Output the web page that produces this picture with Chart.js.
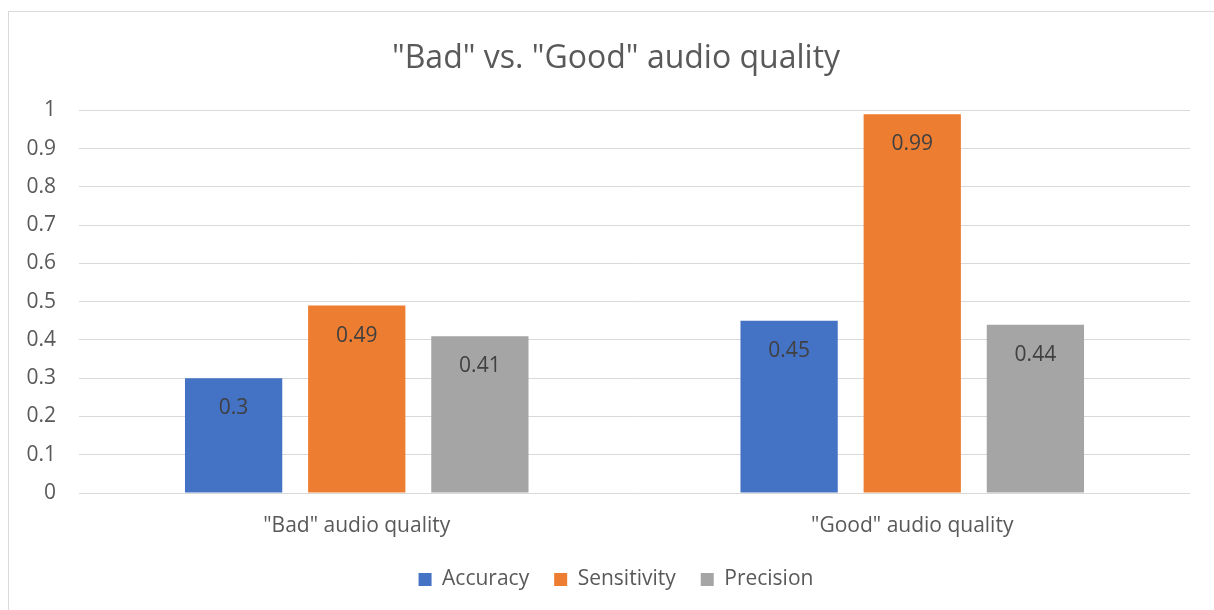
<!DOCTYPE html>
<html>
<head>
<meta charset="utf-8">
<script src="https://cdn.jsdelivr.net/npm/chart.js@4.4.1/dist/chart.umd.min.js"></script>
<style>
  html, body { margin: 0; padding: 0; background: #ffffff; overflow: hidden; }
  #frame {
    position: absolute; left: 8px; top: 11px;
    width: 1216px; height: 660px;
    border: 1px solid #d9d9d9; box-sizing: border-box; background: #fff;
  }
  #chart { position: absolute; left: 0; top: 0; }
</style>
</head>
<body>
<div id="frame"><canvas id="chart" width="1214" height="640"></canvas></div>
<script>
// Categories and series
const categories = ['"Bad" audio quality', '"Good" audio quality'];
const accuracy = [0.3, 0.45];
const sensitivity = [0.49, 0.99];
const precision = [0.41, 0.44];
const seriesNames = ['Accuracy', 'Sensitivity', 'Precision'];
const seriesColors = ['#4472C4', '#ED7D31', '#A5A5A5'];
const yTicks = [0, 0.1, 0.2, 0.3, 0.4, 0.5, 0.6, 0.7, 0.8, 0.9, 1];

const FONT = '"Open Sans", "Liberation Sans", sans-serif';
const LABEL_SIZE = 21;

// Value labels drawn inside each bar, just below its top
const barValueLabels = {
  id: 'barValueLabels',
  afterDatasetsDraw(chart) {
    const ctx = chart.ctx;
    ctx.save();
    ctx.font = LABEL_SIZE + 'px ' + FONT;
    ctx.fillStyle = '#404040';
    ctx.textAlign = 'center';
    ctx.textBaseline = 'middle';
    chart.data.datasets.forEach((ds, i) => {
      const meta = chart.getDatasetMeta(i);
      meta.data.forEach((bar, j) => {
        ctx.fillText(String(ds.data[j]), bar.x, bar.y + 30);
      });
    });
    ctx.restore();
  }
};

const seriesData = [accuracy, sensitivity, precision];

new Chart(document.getElementById('chart'), {
  type: 'bar',
  data: {
    labels: categories,
    datasets: seriesNames.map((name, i) => ({
      label: name,
      data: seriesData[i],
      backgroundColor: seriesColors[i],
      borderWidth: 0,
      categoryPercentage: 0.665,
      barPercentage: 0.79
    }))
  },
  options: {
    responsive: false,
    animation: false,
    layout: { padding: { left: 0, right: 0, top: 0, bottom: 52 } },
    plugins: {
      title: {
        display: true,
        text: '"Bad" vs. "Good" audio quality',
        color: '#595959',
        font: { family: FONT, size: 32, weight: 'normal' },
        padding: { top: 28, bottom: 32 }
      },
      legend: {
        position: 'bottom',
        labels: {
          color: '#595959',
          font: { family: FONT, size: LABEL_SIZE },
          boxWidth: 13,
          boxHeight: 13,
          padding: 25
        }
      },
      tooltip: { enabled: false }
    },
    scales: {
      x: {
        afterFit(scale) { scale.height = 51; },
        grid: { display: false, drawTicks: false },
        border: { display: false },
        ticks: { color: '#595959', font: { family: FONT, size: LABEL_SIZE }, padding: 20 }
      },
      y: {
        min: 0,
        max: 1,
        afterFit(scale) { scale.width = 70; },
        afterBuildTicks(scale) { scale.ticks = yTicks.map(v => ({ value: v })); },
        grid: { color: '#d9d9d9', lineWidth: 1, drawTicks: false },
        border: { display: false },
        ticks: {
          color: '#595959',
          font: { family: FONT, size: LABEL_SIZE },
          padding: 23,
          callback: (v) => String(v)
        }
      },
      // empty right-hand margin beside the plot
      yRight: {
        position: 'right',
        afterFit(scale) { scale.width = 33; },
        grid: { display: false, drawTicks: false },
        border: { display: false },
        ticks: { display: false }
      }
    }
  },
  plugins: [barValueLabels]
});
</script>
</body>
</html>
